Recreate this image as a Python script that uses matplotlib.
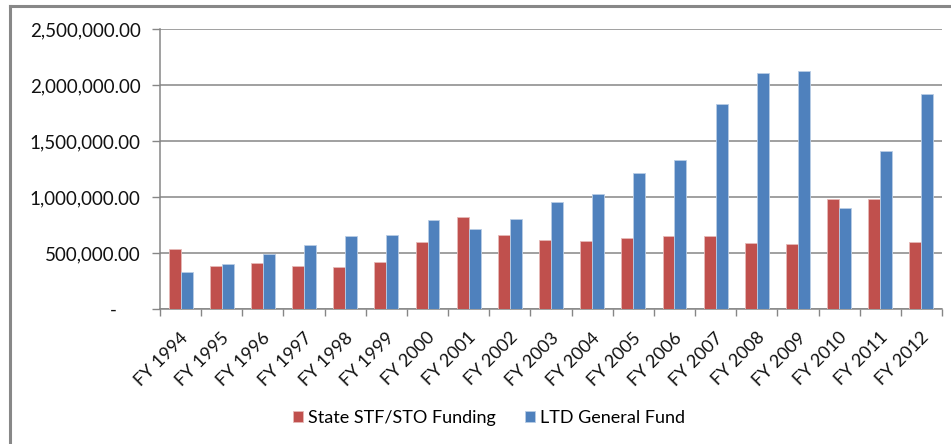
import numpy
import matplotlib
matplotlib.use('Agg')
import matplotlib.pyplot
from matplotlib.ticker import FuncFormatter, FixedLocator
from matplotlib.lines import Line2D
from matplotlib.transforms import ScaledTranslation

years = ['FY 1994', 'FY 1995', 'FY 1996', 'FY 1997', 'FY 1998', 'FY 1999',
         'FY 2000', 'FY 2001', 'FY 2002', 'FY 2003', 'FY 2004', 'FY 2005',
         'FY 2006', 'FY 2007', 'FY 2008', 'FY 2009', 'FY 2010', 'FY 2011',
         'FY 2012']
state_stf = [540000, 384000, 411000, 384000, 378000, 420000, 601000, 821000,
             661000, 619000, 610000, 634000, 652000, 652000, 589000, 583000,
             979000, 979000, 601000]
ltd_general = [333000, 402000, 491000, 574000, 652000, 661000, 797000, 711000,
               806000, 955000, 1024000, 1211000, 1330000, 1830000, 2107000,
               2122000, 902000, 1408000, 1917000]

matplotlib.pyplot.rcParams['font.family'] = ['Lato', 'DejaVu Sans']

def money(v, pos):
    if v == 0:
        return '-     '
    return '{:,.2f}'.format(v)

figure = matplotlib.pyplot.figure(figsize=(9.51, 4.44), dpi=100)
axes = figure.add_axes([160/951, 1 - 309/444, 782/951, 280/444])

x = numpy.arange(len(years))
w = 0.29
axes.bar(x - w/2, state_stf, w, color='#C0504D', edgecolor='#E6B9B8',
         linewidth=0.6, label='State STF/STO Funding', zorder=3)
axes.bar(x + w/2, ltd_general, w, color='#4F81BD', edgecolor='#B9CDE5',
         linewidth=0.6, label='LTD General Fund', zorder=3)

axes.set_xlim(-0.5, len(years) - 0.5)
axes.set_ylim(0, 2500000)
axes.set_yticks(numpy.arange(0, 2500001, 500000))
axes.yaxis.set_major_formatter(FuncFormatter(money))
axes.yaxis.grid(True, color='#868686', linewidth=1.1, zorder=0)

axes.set_xticks(x)
axes.set_xticklabels(years, rotation=45, ha='right', va='center',
                     rotation_mode='anchor')
axes.xaxis.set_minor_locator(FixedLocator(numpy.arange(-0.5, len(years), 1)))
axes.tick_params(axis='x', which='major', length=0, pad=16, labelsize=13,
                 labelcolor='#111111')
axes.tick_params(axis='x', which='minor', length=5, color='#868686', width=1)
axes.tick_params(axis='y', length=6, color='#868686', width=1, pad=8,
                 labelsize=13.5, labelcolor='#111111')

# nudge the slanted labels so their ends sit under the category centres
shift = ScaledTranslation(5/100, -4/100, figure.dpi_scale_trans)
for label in axes.get_xticklabels():
    label.set_transform(label.get_transform() + shift)

for side in ['top', 'right']:
    axes.spines[side].set_visible(False)
for side in ['left', 'bottom']:
    axes.spines[side].set_color('#868686')
    axes.spines[side].set_linewidth(1.1)

figure.legend(loc='center', bbox_to_anchor=(0.514, 1 - 418/444), ncol=2,
              frameon=False, fontsize=13, handlelength=0.6, handleheight=0.6,
              handletextpad=0.25, columnspacing=1.6)

# outer chart frame (left and top edges visible)
figure.add_artist(Line2D([10/951, 10/951], [0, 1 - 6/444], color='#888888',
                         linewidth=2.2, transform=figure.transFigure))
figure.add_artist(Line2D([10/951, 1], [1 - 6/444, 1 - 6/444], color='#888888',
                         linewidth=2.2, transform=figure.transFigure))

matplotlib.pyplot.savefig('out.png', dpi=100)
